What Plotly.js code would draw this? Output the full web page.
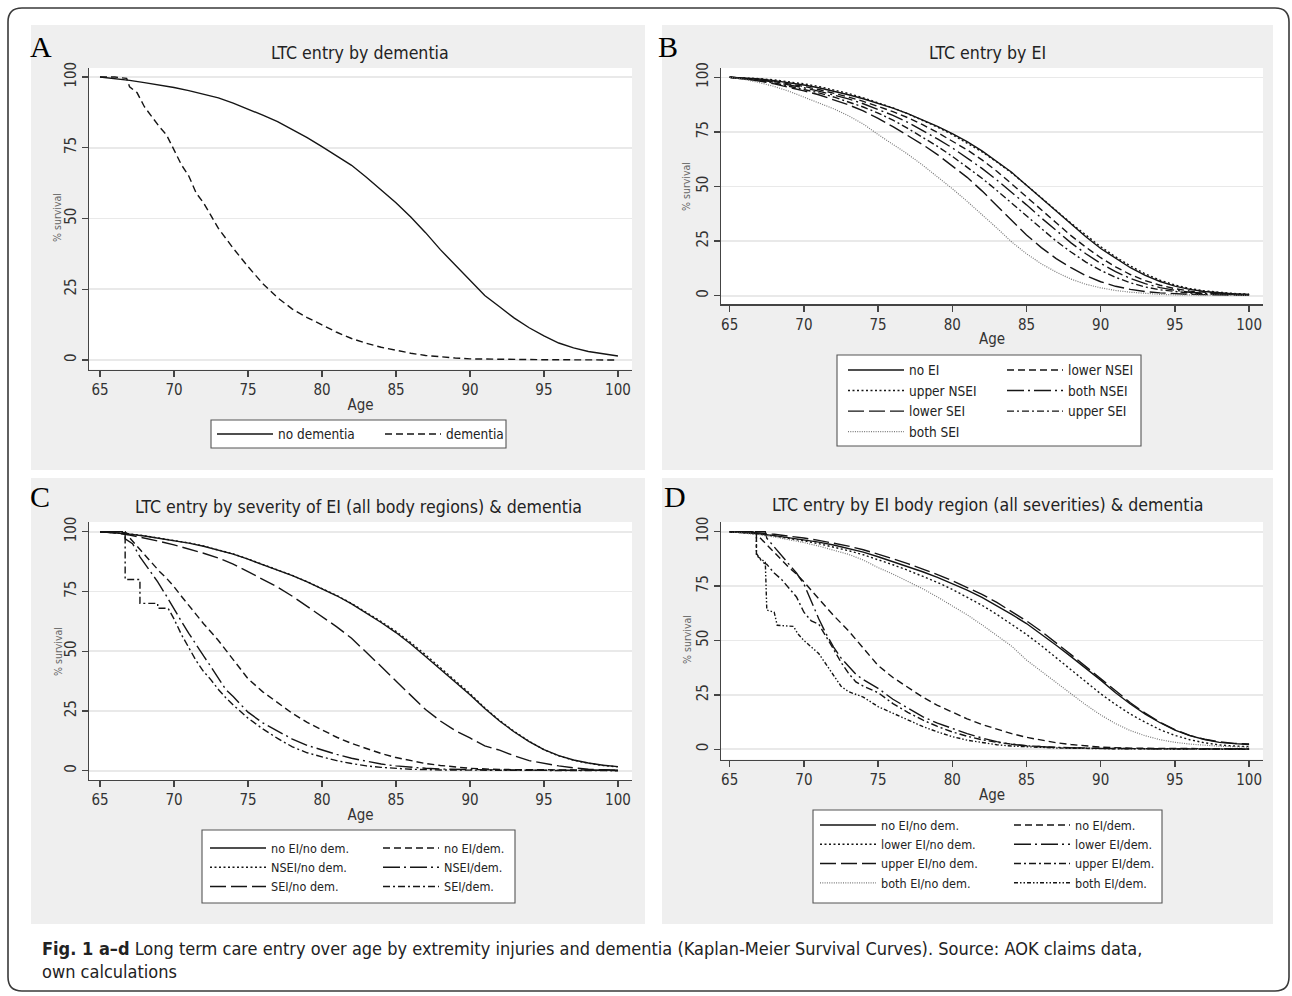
<!DOCTYPE html>
<html><head><meta charset="utf-8">
<script src="https://cdn.plot.ly/plotly-3.0.1.min.js"></script>
<style>html,body{margin:0;padding:0;background:#fff}#chart{width:1292px;height:996px}</style>
</head><body><div id="chart"></div>
<script>
// ---------------- DATA ----------------
const xTickVals = [65, 70, 75, 80, 85, 90, 95, 100];
const yTickVals = [0, 25, 50, 75, 100];
const ages = [65,66,67,68,69,70,71,72,73,74,75,76,77,78,79,80,81,82,83,84,85,86,87,88,89,90,91,92,93,94,95,96,97,98,99,100];

// Panel A
const noDementiaA = [100,99.5,98.8,98,97.2,96.3,95.2,94,92.6,90.8,88.7,86.5,84.2,81.5,78.6,75.4,72.2,68.8,64.6,60.2,55.6,50.5,45,39,33.5,28,22.8,18.8,14.8,11.4,8.5,6,4.3,3,2.2,1.4];
const dementiaAgesA = [65,66,66.8,67,67.5,68,68.5,69,69.5,70,70.5,71,71.5,72,72.5,73,74,75,76,77,78,79,80,81,82,83,84,85,86,87,88,89,90,92,95,100];
const dementiaA = [100,100,99.5,96.5,94.5,89.5,86,82.5,79.5,74.5,69,65,59,55.5,51,46.5,39.5,33,27,22,18,15,12.4,9.8,7.6,5.9,4.5,3.4,2.4,1.6,1.1,0.7,0.4,0.2,0.1,0];

// Panel B
const noEI_B      = [100,99.7,99.2,98.5,97.6,96.5,95.2,93.7,92,90.2,88.2,85.9,83.4,80.6,77.5,74.2,70.5,66.3,61.6,56.5,50.6,44.7,38.5,32.6,27,21.6,17,12.8,9.3,6.5,4.4,2.9,1.9,1.2,0.8,0.6];
const upperNSEI_B = [100,99.8,99.4,98.8,98,97,95.8,94.3,92.6,90.6,88.4,86,83.3,80.4,77.2,73.8,70,65.9,61.2,56.2,50.6,45,39,33.2,27.6,22.4,17.8,13.6,10,7.1,4.9,3.3,2.2,1.5,1,0.7];
const lowerNSEI_B = [100,99.6,99,98.1,97,95.8,94.4,92.8,91,89,86.8,84.3,81.5,78.3,74.7,70.9,66.8,62.2,57,51.2,45.4,39.4,33.4,27.5,22.2,17.4,13.2,9.7,6.9,4.8,3.2,2.1,1.4,1,0.7,0.5];
const bothNSEI_B  = [100,99.5,98.8,97.8,96.6,95.2,93.7,92,90.1,87.9,85.4,82.6,79.4,75.7,71.8,67.7,63.2,58.3,53,47.4,41.6,35.6,29.8,24.2,19.2,14.8,11,7.9,5.5,3.7,2.5,1.6,1.1,0.8,0.6,0.4];
const upperSEI_B  = [100,99.4,98.5,97.4,96,94.5,92.9,91,88.8,86.4,83.6,80.4,76.6,72.6,68.4,63.8,59,53.8,48.2,42.4,36.5,30.6,25,20,15.4,11.6,8.4,5.9,4,2.7,1.8,1.2,0.8,0.6,0.4,0.3];
const lowerSEI_B  = [100,99.3,98.3,97,95.5,93.8,92,89.8,87.4,84.6,81.2,77.4,73.4,69.2,64.6,59.6,54.2,48,41.4,34.4,27.8,22,17,12.8,9.2,6.4,4.3,2.9,1.9,1.3,0.9,0.6,0.5,0.4,0.3,0.2];
const bothSEI_B   = [100,99,97.6,95.8,93.6,91,88.4,85.6,82.4,78.6,73.8,69.5,64.8,59.8,54.5,49,43.2,37.2,31,24.6,19.2,14.6,10.8,7.6,5.2,3.6,2.4,1.6,1,0.6,0.4,0.3,0.2,0.1,0.1,0.1];

// Panel C
const noEInoDemC   = [100,99.6,99,98.2,97.3,96.3,95.2,93.9,92.4,90.6,88.5,86.3,84,81.6,79,76.2,73.2,69.8,66,62,57.8,53,47.8,42.6,37.4,31.8,26,20.8,16.2,12.2,8.8,6.3,4.5,3.2,2.3,1.7];
const NSEInoDemC   = [100,99.7,99.1,98.3,97.4,96.4,95.3,94,92.5,90.7,88.6,86.4,84.1,81.7,79.1,76.3,73.3,70,66.3,62.4,58.3,53.6,48.5,43.2,37.9,32.3,26.3,21,16.4,12.3,8.8,6.2,4.4,3.1,2.2,1.6];
const SEInoDemC    = [100,99.5,98.6,97.4,96,94.5,92.8,91,89,86.4,83.3,80.2,76.8,73,68.8,64.5,60.2,55.4,49.6,43.6,37.5,31.4,25.6,20.8,16.8,13.7,10.4,8.6,6.2,4.2,3,2,1.2,0.6,0.4,0.3];
const noEIdemAgesC = [65,66,66.8,67,67.5,68,68.5,69,69.5,70,70.5,71,71.5,72,72.5,73,74,75,76,77,78,79,80,81,82,83,84,85,86,87,88,89,90,92,95,100];
const noEIdemC     = [100,100,99.5,97.5,94,90.5,87,83.5,80.5,77,73,69,65,61.5,58,54.5,46.5,38.5,33,28.5,24,20.2,17,14,11.4,9.2,7.2,5.5,4.2,3,2.2,1.5,1,0.5,0.3,0.2];
const NSEIdemAgesC = [65,66,66.7,66.7,67.2,67.7,68.2,68.9,69.5,70,70.5,71,71.5,72,72.5,73,73.5,74,75,76,77,78,79,80,81,82,83,84,85,86,87,88,90,92,95,100];
const NSEIdemC     = [100,100,100,97,95,89.5,85,79,73,67.5,62.5,57.5,52.5,48,43.5,38.5,34,31,24.5,20,16.5,13.2,10.6,8.6,6.8,5.2,3.9,2.8,2,1.4,1,0.7,0.4,0.3,0.2,0.1];
const SEIdemAgesC  = [65,66,66.7,66.7,67.7,67.7,68.9,68.9,69.6,70,70.5,71,71.5,72,72.5,73,73.5,74,75,76,77,78,79,80,81,82,83,84,85,86,88,90,95,100];
const SEIdemC      = [100,100,100,80,80,70,70,68,68,63.5,57,51.5,46,41.5,38,34,30.5,27.5,22,17.5,13.5,10,7.5,5.8,4.2,3,2,1.4,1,0.6,0.3,0.2,0.1,0];

// Panel D
const noEInoDemD    = [100,99.6,99,98.2,97.3,96.3,95.2,93.9,92.4,90.6,88.5,86.3,84,81.6,79,76.2,73.2,69.8,66,62,57.8,53,47.8,42.6,37.4,31.8,26,20.8,16.2,12.2,8.8,6.3,4.5,3.2,2.6,2.2];
const lowerEInoDemD = [100,99.6,98.9,98,97,95.8,94.5,93,91.3,89.4,87.2,84.8,82.3,79.6,76.7,73.5,70,66.2,62,57.5,52.8,47.6,42,36.4,30.8,25.5,20.6,16.2,12.4,9,6.4,4.4,3,2,1.5,1.2];
const upperEInoDemD = [100,99.8,99.4,98.8,98,97.1,96,94.8,93.4,91.7,89.7,87.6,85.3,82.9,80.3,77.5,74.5,71.2,67.5,63.4,59,54.2,49,43.5,38,32.6,26.8,21.4,16.6,12.4,9,6.4,4.6,3.4,2.7,2.4];
const bothEInoDemD  = [100,99.4,98.6,97.6,96.4,95,93.4,91.6,89.6,87,83.5,80.5,77.3,73.8,70,66,61.8,57.2,52.4,47.4,41,35.8,30.4,25.2,20.4,15.8,11.8,8.6,6.2,4.4,3.2,2.4,1.8,1.4,1.2,1];
const noEIdemAgesD  = [65,66,66.8,67,67.5,68,68.5,69,69.5,70,70.5,71,71.5,72,72.5,73,74,75,76,77,78,79,80,81,82,83,84,85,86,87,88,89,90,92,95,100];
const noEIdemD      = [100,100,99.5,97.5,94,90.5,87,83.5,80.5,77,73,69,65,61.5,58,54.5,46.5,38.5,33,28.5,24,20.2,17,14,11.4,9.2,7.2,5.5,4.2,3,2.2,1.5,1,0.5,0.3,0.2];
const lowerEIdemAgesD = [65,67.4,67.5,68,68.5,69,69.5,70,70.5,71,71.5,72,72.5,73,73.5,74,75,76,77,78,79,80,81,82,83,84,85,87,90,95,100];
const lowerEIdemD     = [100,100,97,93,89,85,81,76,68,60,53,47,42,38,34.5,32,28,23,19,15,12,9.5,7.2,5.2,3.5,2.3,1.6,0.8,0.4,0.2,0.1];
const upperEIdemAgesD = [65,66.8,66.8,67.2,67.5,68,68.5,69,69.5,70,70.5,71,71.5,72,72.5,73,73.5,74,75,76,77,78,79,80,81,82,83,84,85,87,90,95,100];
const upperEIdemD     = [100,100,90,86,85,81,78,74,70,63,59,57.5,52,46,40,35,31,29,26,21,17,13.5,10.5,8,6,4.4,3.2,2.3,1.6,0.9,0.4,0.2,0.1];
const bothEIdemAgesD  = [65,66.8,66.8,67.4,67.5,68,68.2,69.3,69.6,70,70.5,71,71.5,72,72.5,73,74,75,76,77,78,79,80,81,82,83,84,85,87,90,95,100];
const bothEIdemD      = [100,100,89,86,64,63,57,56.5,53,50,47,44,39,34,29,26.5,24,19.6,16.5,13.5,10.5,8,5.8,4.2,3,2.1,1.5,1.1,0.6,0.3,0.1,0];

const panelTitles = ['LTC entry by dementia', 'LTC entry by EI',
  'LTC entry by severity of EI (all body regions) & dementia',
  'LTC entry by EI body region (all severities) & dementia'];
const panelLetters = ['A', 'B', 'C', 'D'];
const xTitle = 'Age';
const yTitle = '% survival';
const captionBold = 'Fig. 1 a\u2013d';
const captionText = ' Long term care entry over age by extremity injuries and dementia (Kaplan-Meier Survival Curves). Source: AOK claims data,<br>own calculations';

// ---------------- STYLE ----------------
const W = 1292, H = 996;
const fx = p => p / W;
const fy = p => 1 - p / H;
const FONT = "'DejaVu Sans Condensed', 'Liberation Sans Narrow', 'Arial Narrow', 'Liberation Sans', Arial, sans-serif";
const SERIF = "'Liberation Serif', 'Times New Roman', 'DejaVu Serif', serif";
const CAPFONT = "'DejaVu Sans Condensed', 'Liberation Sans Narrow', 'Open Sans', sans-serif";
const K = '#151515';
const GREY = '#7a7a7a';
const DASH = '7px,4px';
const DOT = '2px,2.5px';
const LONG = '16px,5px';
const LONGDOT = '17px,4px,2px,4px';
const DASHDOT = '7px,3px,2px,3px';
const FINE = '1px,1.3px';
const DENSE = '4px,2px,1.5px,2px,1.5px,2px';

function tr(name, x, y, sp, leg, dash, color, width) {
  return {type: 'scatter', mode: 'lines', name: name, x: x, y: y,
    xaxis: 'x' + (sp === 1 ? '' : sp), yaxis: 'y' + (sp === 1 ? '' : sp),
    legend: leg, hoverinfo: 'skip',
    line: {color: color || K, width: width || 1.4, dash: dash}};
}

const data = [
  tr('no dementia', ages, noDementiaA, 1, 'legend', 'solid'),
  tr('dementia', dementiaAgesA, dementiaA, 1, 'legend2', DASH),

  tr('no EI', ages, noEI_B, 2, 'legend3', 'solid'),
  tr('lower NSEI', ages, lowerNSEI_B, 2, 'legend4', DASH),
  tr('upper NSEI', ages, upperNSEI_B, 2, 'legend3', DOT),
  tr('both NSEI', ages, bothNSEI_B, 2, 'legend4', LONGDOT),
  tr('lower SEI', ages, lowerSEI_B, 2, 'legend3', LONG),
  tr('upper SEI', ages, upperSEI_B, 2, 'legend4', DASHDOT),
  tr('both SEI', ages, bothSEI_B, 2, 'legend3', FINE, GREY, 1.2),

  tr('no EI/no dem.', ages, noEInoDemC, 3, 'legend5', 'solid'),
  tr('no EI/dem.', noEIdemAgesC, noEIdemC, 3, 'legend6', DASH),
  tr('NSEI/no dem.', ages, NSEInoDemC, 3, 'legend5', DOT),
  tr('NSEI/dem.', NSEIdemAgesC, NSEIdemC, 3, 'legend6', LONGDOT),
  tr('SEI/no dem.', ages, SEInoDemC, 3, 'legend5', LONG),
  tr('SEI/dem.', SEIdemAgesC, SEIdemC, 3, 'legend6', DASHDOT),

  tr('no EI/no dem.', ages, noEInoDemD, 4, 'legend7', 'solid'),
  tr('no EI/dem.', noEIdemAgesD, noEIdemD, 4, 'legend8', DASH),
  tr('lower EI/no dem.', ages, lowerEInoDemD, 4, 'legend7', DOT),
  tr('lower EI/dem.', lowerEIdemAgesD, lowerEIdemD, 4, 'legend8', LONGDOT),
  tr('upper EI/no dem.', ages, upperEInoDemD, 4, 'legend7', LONG),
  tr('upper EI/dem.', upperEIdemAgesD, upperEIdemD, 4, 'legend8', DASHDOT),
  tr('both EI/no dem.', ages, bothEInoDemD, 4, 'legend7', FINE, GREY, 1.2),
  tr('both EI/dem.', bothEIdemAgesD, bothEIdemD, 4, 'legend8', DENSE)
];

function xAxis(l, r, range, anchor) {
  return {domain: [fx(l), fx(r)], range: range, anchor: anchor,
    tickmode: 'array', tickvals: xTickVals, ticks: 'outside', ticklen: 6, tickwidth: 1.3, tickcolor: '#444',
    showline: true, linecolor: '#444', linewidth: 1.3, showgrid: false, zeroline: false,
    tickfont: {family: FONT, size: 15, color: '#333'},
    title: {text: xTitle, font: {family: FONT, size: 15, color: '#333'}, standoff: 1},
    automargin: false, fixedrange: true};
}
function yAxis(t, b, range, anchor) {
  return {domain: [fy(b), fy(t)], range: range, anchor: anchor,
    tickmode: 'array', tickvals: yTickVals, tickangle: -90, ticks: 'outside', ticklen: 6, tickwidth: 1.3, tickcolor: '#444',
    showline: true, linecolor: '#444', linewidth: 1.3, showgrid: true, gridcolor: '#e9e9e9', gridwidth: 1.6, zeroline: false,
    tickfont: {family: FONT, size: 15, color: '#333'},
    automargin: false, fixedrange: true};
}

function legendAt(xpx, ypx, size) {
  return {x: fx(xpx), y: fy(ypx), xanchor: 'left', yanchor: 'top', orientation: 'v',
    bgcolor: 'rgba(0,0,0,0)', borderwidth: 0, itemwidth: 56, traceorder: 'normal',
    font: {family: FONT, size: size, color: '#222'}, itemclick: false, itemdoubleclick: false};
}

function rectPx(x0, y0, x1, y1, fill, line) {
  return {type: 'rect', xref: 'paper', yref: 'paper', x0: fx(x0), x1: fx(x1), y0: fy(y1), y1: fy(y0),
    fillcolor: fill, line: line || {width: 0}, layer: 'below'};
}
function plotArea(sp) {
  const s = sp === 1 ? '' : sp;
  return {type: 'rect', xref: 'x' + s + ' domain', yref: 'y' + s + ' domain', x0: 0, x1: 1, y0: 0, y1: 1,
    fillcolor: '#ffffff', line: {width: 0}, layer: 'below'};
}
function roundedBorder(x0, y0, x1, y1, r) {
  const p = (a, b) => fx(a) + ',' + fy(b);
  return {type: 'path', xref: 'paper', yref: 'paper', layer: 'below',
    path: 'M' + p(x0 + r, y0) + ' L' + p(x1 - r, y0) + ' Q' + p(x1, y0) + ' ' + p(x1, y0 + r) +
      ' L' + p(x1, y1 - r) + ' Q' + p(x1, y1) + ' ' + p(x1 - r, y1) +
      ' L' + p(x0 + r, y1) + ' Q' + p(x0, y1) + ' ' + p(x0, y1 - r) +
      ' L' + p(x0, y0 + r) + ' Q' + p(x0, y0) + ' ' + p(x0 + r, y0) + ' Z',
    line: {color: '#3a3a3a', width: 1.6}, fillcolor: 'rgba(0,0,0,0)'};
}

const boxLine = {color: '#555', width: 1.1};
const shapes = [
  roundedBorder(8, 8, 1289, 991, 14),
  rectPx(31, 25, 645, 470, '#efefef'),
  rectPx(662, 25, 1273, 470, '#efefef'),
  rectPx(31, 478, 645, 924, '#efefef'),
  rectPx(662, 478, 1273, 924, '#efefef'),
  plotArea(1), plotArea(2), plotArea(3), plotArea(4),
  rectPx(211, 420, 506, 448, '#ffffff', boxLine),
  rectPx(837, 355, 1141, 446, '#ffffff', boxLine),
  rectPx(202, 830, 515, 903, '#ffffff', boxLine),
  rectPx(813, 810, 1162, 903, '#ffffff', boxLine)
];

function ann(text, xpx, ypx, font, xanchor, yanchor, align, angle) {
  return {text: text, x: fx(xpx), y: fy(ypx), xref: 'paper', yref: 'paper', showarrow: false,
    xanchor: xanchor || 'center', yanchor: yanchor || 'middle', align: align || 'center', font: font,
    textangle: angle || 0};
}
const titleFont = {family: FONT, size: 17.6, color: '#222'};
const letterFont = {family: SERIF, size: 30, color: '#000'};
const yTitleFont = {family: FONT, size: 10.5, color: '#666'};
const annotations = [
  ann(panelTitles[0], 360, 53, titleFont), ann(panelTitles[1], 988, 53, titleFont),
  ann(panelTitles[2], 358, 507, titleFont), ann(panelTitles[3], 988, 505, titleFont),
  ann(panelLetters[0], 41, 46, letterFont), ann(panelLetters[1], 668, 46, letterFont),
  ann(panelLetters[2], 40, 496, letterFont), ann(panelLetters[3], 675, 496, letterFont),
  ann(yTitle, 57, 218, yTitleFont, 'center', 'middle', 'center', -90),
  ann(yTitle, 686, 187, yTitleFont, 'center', 'middle', 'center', -90),
  ann(yTitle, 58, 652, yTitleFont, 'center', 'middle', 'center', -90),
  ann(yTitle, 687, 640, yTitleFont, 'center', 'middle', 'center', -90),
  ann('<b>' + captionBold + '</b>' + captionText, 40, 936, {family: CAPFONT, size: 18, color: '#222'}, 'left', 'top', 'left')
];

const layout = {
  width: W, height: H, margin: {l: 0, r: 0, t: 0, b: 0, pad: 0},
  paper_bgcolor: '#ffffff', plot_bgcolor: 'rgba(0,0,0,0)', showlegend: true,
  xaxis:  xAxis(89, 632, [64.257, 100.95], 'y'),
  yaxis:  yAxis(68, 369.5, [-3.357, 103.18], 'x'),
  xaxis2: xAxis(721, 1263, [64.414, 100.937], 'y2'),
  yaxis2: yAxis(68, 304.3, [-3.94, 104.26], 'x2'),
  xaxis3: xAxis(89, 632, [64.257, 100.95], 'y3'),
  yaxis3: yAxis(522, 780, [-3.89, 104.06], 'x3'),
  xaxis4: xAxis(721, 1263, [64.414, 100.937], 'y4'),
  yaxis4: yAxis(522, 759.5, [-4.69, 104.46], 'x4'),
  legend:  legendAt(212, 418.7, 13.5),
  legend2: legendAt(380, 418.7, 13.5),
  legend3: legendAt(843, 354.7, 13.5),
  legend4: legendAt(1002, 354.7, 13.5),
  legend5: legendAt(205, 833.4, 12.5),
  legend6: legendAt(378, 833.4, 12.5),
  legend7: legendAt(815, 810.4, 12.5),
  legend8: legendAt(1009, 810.4, 12.5),
  shapes: shapes,
  annotations: annotations
};

Plotly.newPlot('chart', data, layout, {displayModeBar: false, staticPlot: true});
</script></body></html>
